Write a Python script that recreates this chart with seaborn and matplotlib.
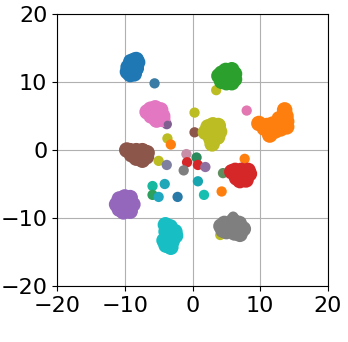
import matplotlib
matplotlib.use("Agg")
import matplotlib.pyplot as plt
import seaborn as sns
import pandas as pd

tab = ["#1f77b4","#ff7f0e","#2ca02c","#d62728","#9467bd","#8c564b","#e377c2","#7f7f7f","#bcbd22","#17becf"]
cyan_c = "#17bfc4"

blue_x = [-9.6,-9.5,-9.1,-8.6,-8.3,-8.1,-8.3,-8.6,-9.2,-8.9]
blue_y = [11.5,12.2,13.0,13.2,13.3,12.9,12.0,11.2,11.1,12.2]
orange_x = [9.8,10.6,11.4,12.2,13.0,13.9,13.9,13.8,13.6,12.8,11.8,11.0,12.5,13.3]
orange_y = [3.9,3.2,2.2,2.8,3.1,3.4,4.2,5.0,5.9,4.6,3.8,3.6,3.4,4.3]
green_x = [3.9,4.3,4.9,5.8,6.2,6.2,5.8,5.0,4.3,5.2]
green_y = [10.9,11.3,11.7,11.8,11.2,10.4,9.9,9.9,10.1,10.8]
red_x = [5.8,6.3,7.2,8.2,8.4,7.9,7.0,6.5,7.3]
red_y = [-3.2,-3.0,-3.0,-3.0,-3.5,-4.4,-4.5,-4.1,-3.7]
purple_x = [-11.2,-10.8,-10.0,-9.2,-8.8,-9.2,-10.2,-10.8,-10.0]
purple_y = [-8.0,-7.2,-6.9,-7.0,-8.0,-9.0,-9.1,-8.7,-8.0]
brown_x = [-9.7,-9.2,-8.3,-7.4,-6.7,-6.8,-7.4,-8.3,-9.0,-8.0]
brown_y = [0.0,-0.1,-0.1,-0.1,-0.4,-1.0,-1.5,-1.2,-0.7,-0.7]
pink_x = [-6.7,-6.2,-5.5,-4.7,-4.4,-4.4,-5.3,-6.1,-5.3]
pink_y = [5.6,6.0,6.2,5.9,5.0,4.5,4.4,5.0,5.3]
gray_x = [4.2,4.7,6.0,6.9,7.5,7.0,6.2,5.0,4.5,5.8]
gray_y = [-11.2,-10.8,-10.4,-10.8,-11.6,-12.4,-12.2,-12.0,-11.8,-11.4]
olive_x = [1.9,2.3,3.0,3.8,4.0,3.7,2.7,2.9,3.0]
olive_y = [2.6,3.4,3.7,3.6,2.7,1.9,1.7,0.9,2.6]
cyan_x = [-4.0,-3.3,-2.6,-2.5,-3.0,-3.2,-3.9,-4.2,-3.9,-3.3]
cyan_y = [-11.0,-11.3,-12.0,-12.6,-13.4,-14.3,-14.0,-13.3,-12.0,-12.5]

extra_x = [-5.6,8.0,3.5,0.3,0.3,-3.7,-3.2,-5.0,-3.8,-3.8,-0.9,0.6,-0.8,0.8,1.9,-1.3,0.8,1.7,4.3,-2.2,-4.1,-5.9,-5.9,-5.0,4.5,7.7,4.1,6.0]
extra_y = [9.8,5.8,8.8,5.5,2.6,1.7,0.8,-1.6,-2.2,3.8,-0.6,-1.1,-1.8,-2.2,-2.5,-3.0,-4.6,-6.6,-6.1,-6.9,-5.0,-5.3,-6.6,-6.9,-3.4,-1.3,-12.5,-9.8]
extra_c = ["#3a7ca5","#e377b2","#bcbd22","#bcbd22","#8c564b","#bcbd22","#ff7f0e","#bcbd22","#7f7f9f","#7f5f8f",
           "#c78fa8","#2c8a5c","#d62728","#d62728","#8f6fa0","#7f7f7f","#17a5b0","#17bfb0","#ff7f0e","#2a7aa8",
           "#20a8b8","#17b8a0","#2ca05c","#20a8c0","#5f8f5f","#ff7f0e","#bcbd22","#7f7f7f"]

names = list("abcdefghij")
xs = [blue_x,orange_x,green_x,red_x,purple_x,brown_x,pink_x,gray_x,olive_x,cyan_x]
ys = [blue_y,orange_y,green_y,red_y,purple_y,brown_y,pink_y,gray_y,olive_y,cyan_y]
rows = []
for n,a,b in zip(names,xs,ys):
    rows += [(p,q,n) for p,q in zip(a,b)]
df = pd.DataFrame(rows,columns=["x","y","label"])
pal = dict(zip(names,tab[:9]+[cyan_c]))

sns.set_style("white")
fig = plt.figure(figsize=(3.48,3.42),dpi=100)
ax = fig.add_axes([57/348,1-286/342,271/348,272/342])
ax.scatter(extra_x,extra_y,c=extra_c,s=55,linewidths=0,zorder=2)
sns.scatterplot(data=df,x="x",y="y",hue="label",palette=pal,s=125,linewidth=0,legend=False,ax=ax,zorder=3)
ax.scatter(extra_x[9:10],extra_y[9:10],c=extra_c[9:10],s=30,linewidths=0,zorder=4)
ax.set_xlim(-20,20); ax.set_ylim(-20,20)
ax.set_xticks([-20,-10,0,10,20]); ax.set_yticks([-20,-10,0,10,20])
ax.set_xlabel(""); ax.set_ylabel("")
ax.set_axisbelow(True)
ax.grid(True,color="#b0b0b0",lw=0.8)
ax.tick_params(left=True,bottom=True,labelsize=16,length=3.5,width=0.8,color="black",labelcolor="black",pad=3.5)
for s in ax.spines.values():
    s.set_color("black"); s.set_linewidth(0.8)
fig.savefig("out.png",dpi=100)
